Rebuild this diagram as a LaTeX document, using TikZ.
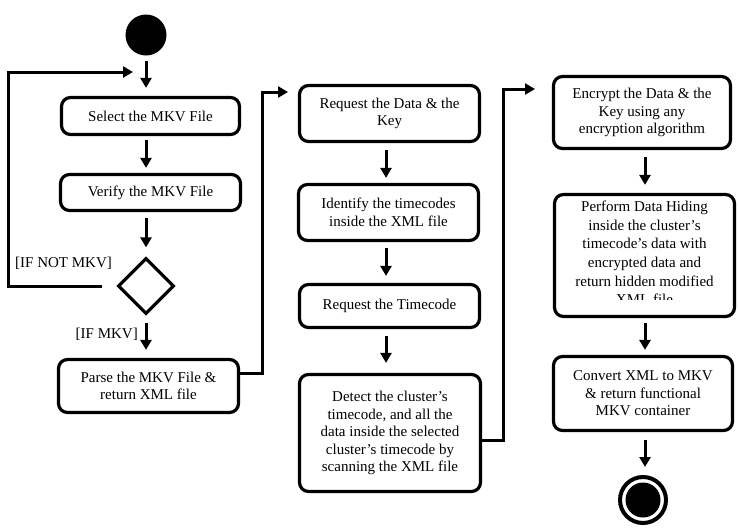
\documentclass[tikz,border=0pt]{standalone}
\usepackage{fontspec}
\setmainfont{Liberation Serif}
\usetikzlibrary{arrows.meta,shapes.geometric}
\tikzset{
  txtfont/.style={font=\fontsize{15}{17.5}\selectfont},
  box/.style={draw, line width=3.2pt, rounded corners=9pt, align=center, inner sep=0pt, txtfont},
  arr/.style={line width=3pt, -{Triangle[width=11pt,length=10pt]}},
  lbl/.style={inner sep=0pt, txtfont},
}
\begin{document}
\begin{tikzpicture}[x=1pt,y=-1pt]
\useasboundingbox (0,0) rectangle (738,531);
% column 1
\node[circle, fill, minimum size=41pt, inner sep=0pt] (start) at (146,35) {};
\node[box, minimum width=178pt, minimum height=37pt] (sel) at (150.5,116) {Select the MKV File};
\node[box, minimum width=180pt, minimum height=36pt] (ver) at (150.5,192.5) {Verify the MKV File};
\node[diamond, draw, line width=3.2pt, minimum width=56pt, minimum height=56pt, inner sep=0pt] (dia) at (146,286) {};
\node[box, minimum width=180pt, minimum height=53pt] (parse) at (148.5,386) {Parse the MKV File \&\\return XML file};
\node[lbl, anchor=west] (lnot) at (15,263) {[IF NOT MKV]};
\node[lbl, anchor=east] (lmkv) at (138,334) {[IF MKV]};
% column 2
\node[box, minimum width=180pt, minimum height=56pt] (req) at (389.5,113.5) {Request the Data \& the\\Key};
\node[box, minimum width=180pt, minimum height=56pt] (ident) at (388.5,212.5) {Identify the timecodes\\inside the XML file};
\node[box, minimum width=180pt, minimum height=43pt] (reqt) at (389.5,306) {Request the Timecode};
\node[box, minimum width=181pt, minimum height=117pt] (det) at (390,433) {Detect the cluster’s\\timecode, and all the\\data inside the selected\\cluster’s timecode by\\scanning the XML file};
% column 3
\node[box, minimum width=177pt, minimum height=72pt] (enc) at (642,112.5) {Encrypt the Data \& the\\Key using any\\encryption algorithm};
\node[box, minimum width=180pt, minimum height=122pt] (perf) at (644.5,255.5) {};
\begin{scope}
  \clip (550,190) rectangle (740,299.5);
  \node[lbl, align=center, font=\fontsize{15}{18.6}\selectfont] (perftxt) at (644.5,253) {Perform Data Hiding\\inside the cluster’s\\timecode’s data with\\encrypted data and\\return hidden modified\\XML file};
\end{scope}
\node[box, minimum width=179pt, minimum height=74pt] (conv) at (643,393.5) {Convert XML to MKV\\\& return functional\\MKV container};
\node[circle, draw, line width=4pt, minimum size=46pt, inner sep=0pt] (end) at (643,500) {};
\node[circle, fill, minimum size=35pt, inner sep=0pt] (endin) at (end.center) {};
% helper coordinates
\coordinate (ax1) at (146,0);
\coordinate (ax2) at (386,0);
\coordinate (ax3) at (645,0);
\coordinate (loopT) at (133,72);
\coordinate (c2) at (288,92);
\coordinate (c3) at (535,89);
% arrows column 1
\draw[arr, shorten <=5pt, shorten >=8pt] (start.south) -- (sel.north -| ax1);
\draw[arr, shorten <=4pt, shorten >=5pt] (sel.south -| ax1) -- (ver.north -| ax1);
\draw[arr, shorten <=6pt, shorten >=9pt] (ver.south -| ax1) -- (dia.north);
\draw[arr, shorten <=7pt, shorten >=8pt] (dia.south) -- (parse.north -| ax1);
\draw[arr] ([xshift=-14pt]dia.west) -- ([xshift=-108pt]dia.west) |- (loopT);
\draw[arr] ([yshift=13pt]parse.east) -- ++(22,0) |- (c2);
% arrows column 2
\draw[arr, shorten <=7pt, shorten >=5pt] (req.south -| ax2) -- (ident.north -| ax2);
\draw[arr, shorten <=6pt, shorten >=7pt] (ident.south -| ax2) -- (reqt.north -| ax2);
\draw[arr, shorten <=7pt, shorten >=10pt] (reqt.south -| ax2) -- (det.north -| ax2);
\draw[arr] ([yshift=-7pt]det.east) -- ++(21,0) |- (c3);
% arrows column 3
\draw[arr, shorten <=7pt, shorten >=8pt] (enc.south -| ax3) -- (perf.north -| ax3);
\draw[arr, shorten <=5pt, shorten >=5pt] (perf.south -| ax3) -- (conv.north -| ax3);
\draw[arr, shorten <=8pt, shorten >=8pt] (conv.south -| ax3) -- (end.north -| ax3);
\end{tikzpicture}
\end{document}
